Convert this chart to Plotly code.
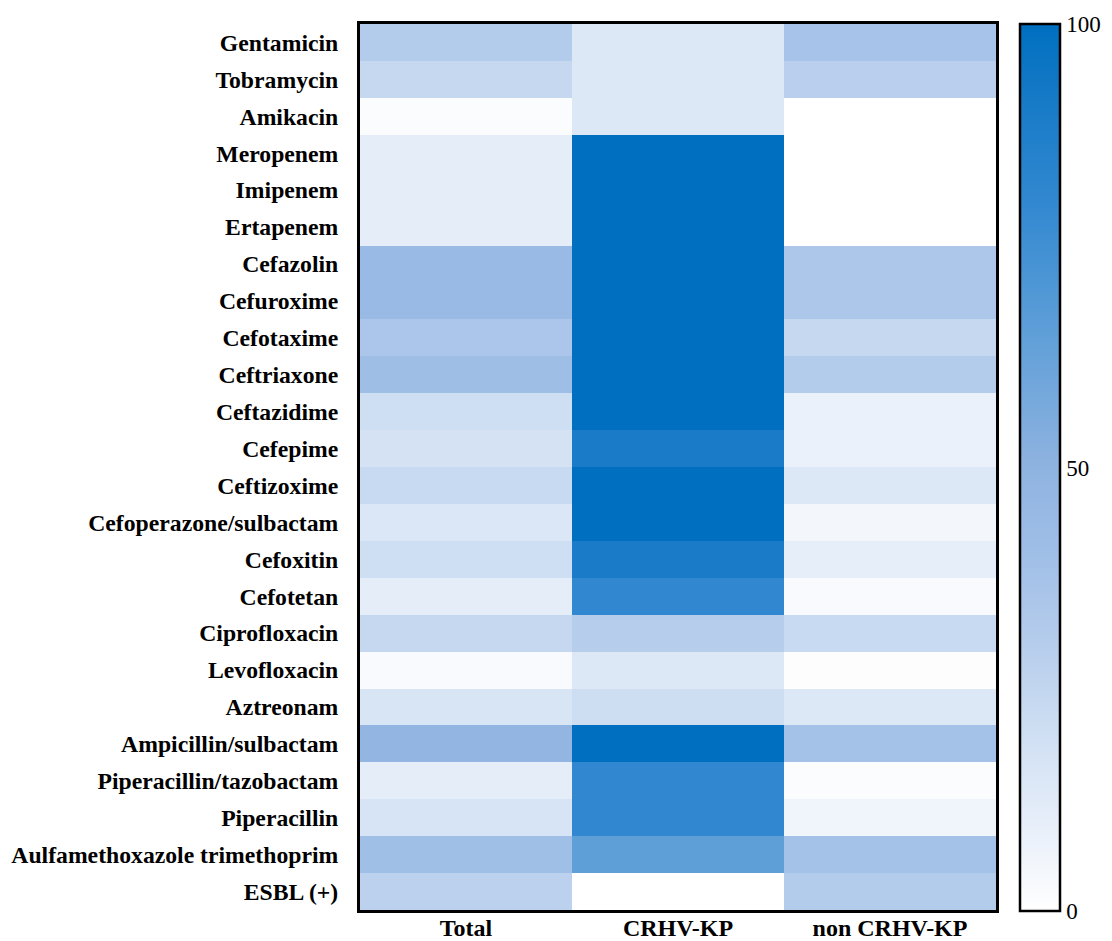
import plotly.graph_objects as go

drugs = ["Gentamicin", "Tobramycin", "Amikacin", "Meropenem", "Imipenem", "Ertapenem",
         "Cefazolin", "Cefuroxime", "Cefotaxime", "Ceftriaxone", "Ceftazidime", "Cefepime",
         "Ceftizoxime", "Cefoperazone/sulbactam", "Cefoxitin", "Cefotetan", "Ciprofloxacin",
         "Levofloxacin", "Aztreonam", "Ampicillin/sulbactam", "Piperacillin/tazobactam",
         "Piperacillin", "Aulfamethoxazole trimethoprim", "ESBL (+)"]
groups = ["Total", "CRHV-KP", "non CRHV-KP"]

total = [31, 24, 2, 11, 11, 11, 44, 44, 35, 41, 20, 18, 23, 15, 20, 11, 24, 3, 16, 48, 11, 17, 40, 28]
crhv = [14, 14, 14, 100, 100, 100, 100, 100, 100, 100, 100, 90, 100, 100, 90, 80, 30, 14, 21, 100, 80, 80, 65, 0]
non_crhv = [37, 29, 0, 0, 0, 0, 34, 34, 24, 31, 8, 8, 14, 5, 10, 3, 23, 1, 14, 38, 2, 6, 38, 31]

z = [[t, c, n] for t, c, n in zip(total, crhv, non_crhv)]

colorscale = [[0.0, "#ffffff"], [0.1, "#e6eef9"], [0.2, "#cfdff3"], [0.3, "#b6cdec"],
              [0.4, "#a0bfe7"], [0.5, "#8fb3e0"], [0.65, "#5f9fd8"], [0.8, "#3188d0"],
              [0.9, "#1a7cc8"], [1.0, "#006fc0"]]

font_family = "Liberation Serif, Times New Roman, serif"

fig = go.Figure(go.Heatmap(
    z=z, x=groups, y=drugs, zmin=0, zmax=100, colorscale=colorscale,
    colorbar=dict(
        x=1.0377, xanchor="left", thickness=40, thicknessmode="pixels",
        len=887, lenmode="pixels", y=0.4994, yanchor="middle", ypad=0, xpad=0,
        outlinewidth=2.5, outlinecolor="black",
        tickvals=[0, 50, 100], ticktext=["0", "50", "100"], ticks="",
        tickfont=dict(family=font_family, size=23, color="black"),
    ),
))

fig.update_layout(
    width=1112, height=941,
    margin=dict(l=360, r=116, t=24, b=31),
    paper_bgcolor="white", plot_bgcolor="white",
    font=dict(family=font_family, color="black"),
)
fig.update_xaxes(
    showline=True, mirror=True, linewidth=3, linecolor="black", ticks="",
    ticklabelstandoff=-6,
    tickfont=dict(family=font_family, size=24, color="black", weight="bold"),
    automargin=False, showgrid=False, zeroline=False,
)
fig.update_yaxes(
    autorange="reversed", showline=True, mirror=True, linewidth=3, linecolor="black",
    ticks="", ticklabelstandoff=14,
    tickfont=dict(family=font_family, size=23.7, color="black", weight="bold"),
    automargin=False, showgrid=False, zeroline=False,
)

fig.write_html("out.html", config={"displayModeBar": False},
               post_script="document.body.style.margin='0';document.body.style.overflow='hidden';")
